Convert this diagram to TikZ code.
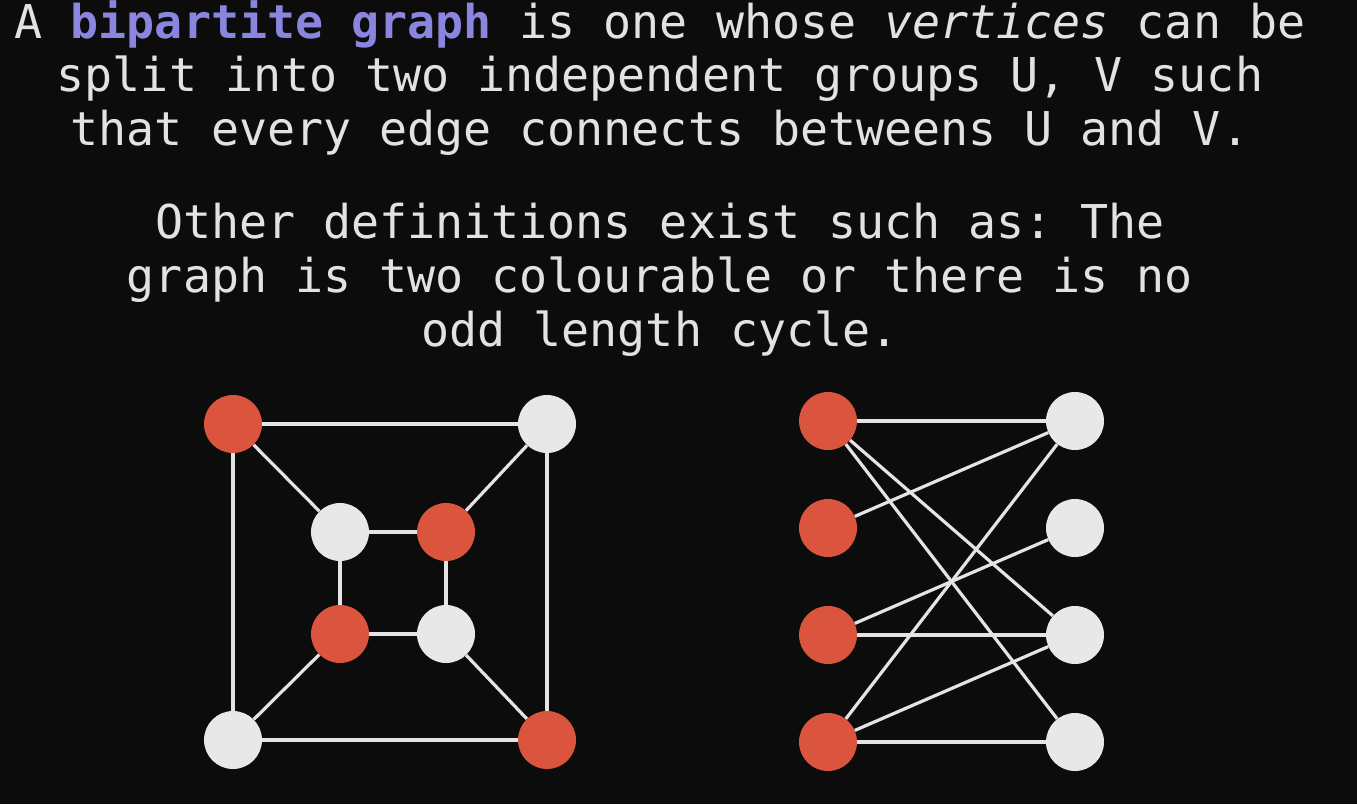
\documentclass[tikz,border=0pt]{standalone}
\usepackage{fontspec}
\setmonofont{DejaVu Sans Mono}
\definecolor{bg}{RGB}{12,12,12}
\definecolor{txt}{RGB}{226,226,226}
\definecolor{purp}{RGB}{138,133,222}
\definecolor{redv}{RGB}{218,84,62}
\definecolor{whv}{RGB}{232,232,232}
\definecolor{edge}{RGB}{228,228,228}
\tikzset{
  line/.style={anchor=base, inner sep=0pt, text=txt, font=\ttfamily\fontsize{46.6}{54}\selectfont},
  rv/.style={circle, fill=redv, minimum size=58pt, inner sep=0pt},
  wv/.style={circle, fill=whv, minimum size=58pt, inner sep=0pt},
  ed/.style={draw=edge, line width=3.2pt}
}
\begin{document}
\begin{tikzpicture}[x=1pt,y=-1pt]
\fill[bg] (0,0) rectangle (1357,804);
\useasboundingbox (0,0) rectangle (1357,804);
% text
\node[line] (t1) at (660,38) {A \textcolor{purp}{\bfseries bipartite graph} is one whose \textit{vertices} can be};
\node[line] (t2) at (660,91) {split into two independent groups U, V such};
\node[line] (t3) at (660,145) {that every edge connects betweens U and V.};
\node[line] (t4) at (660,238) {Other definitions exist such as: The};
\node[line] (t5) at (660,292) {graph is two colourable or there is no};
\node[line] (t6) at (660,346) {odd length cycle.};
% left graph
\node[rv] (a1) at (233,424) {};
\node[wv] (a2) at (547,424) {};
\node[wv] (a3) at (233,740) {};
\node[rv] (a4) at (547,740) {};
\node[wv] (b1) at (340,532) {};
\node[rv] (b2) at (446,532) {};
\node[rv] (b3) at (340,634) {};
\node[wv] (b4) at (446,634) {};
\draw[ed] (a1) -- (a2);
\draw[ed] (a1) -- (a3);
\draw[ed] (a2) -- (a4);
\draw[ed] (a3) -- (a4);
\draw[ed] (a1) -- (b1);
\draw[ed] (a2) -- (b2);
\draw[ed] (a3) -- (b3);
\draw[ed] (a4) -- (b4);
\draw[ed] (b1) -- (b2);
\draw[ed] (b1) -- (b3);
\draw[ed] (b2) -- (b4);
\draw[ed] (b3) -- (b4);
% right graph
\node[rv] (l1) at (828,421) {};
\node[rv] (l2) at (828,528) {};
\node[rv] (l3) at (828,635) {};
\node[rv] (l4) at (828,742) {};
\node[wv] (r1) at (1075,421) {};
\node[wv] (r2) at (1075,528) {};
\node[wv] (r3) at (1075,635) {};
\node[wv] (r4) at (1075,742) {};
\draw[ed] (l1) -- (r1);
\draw[ed] (l1) -- (r3);
\draw[ed] (l1) -- (r4);
\draw[ed] (l2) -- (r1);
\draw[ed] (l3) -- (r2);
\draw[ed] (l3) -- (r3);
\draw[ed] (l4) -- (r1);
\draw[ed] (l4) -- (r3);
\draw[ed] (l4) -- (r4);
\end{tikzpicture}
\end{document}
